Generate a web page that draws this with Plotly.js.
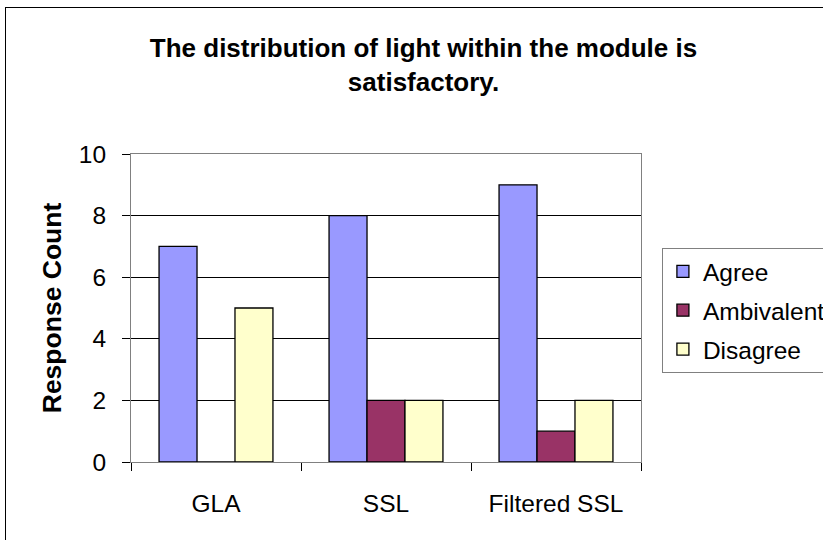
<!DOCTYPE html>
<html>
<head>
<meta charset="utf-8">
<script src="https://cdn.plot.ly/plotly-3.0.1.min.js"></script>
<style>
body{margin:0;padding:0;background:#fff;overflow:hidden;}
#wrap{position:relative;width:823px;height:540px;overflow:hidden;}
#chart{width:900px;height:540px;}
#frame{position:absolute;left:5px;top:7px;width:900px;height:600px;border:1px solid #000;pointer-events:none;}
</style>
</head>
<body>
<div id="wrap"><div id="chart"></div><div id="frame"></div></div>
<script>
const categories = ["GLA", "SSL", "Filtered SSL"];
const agree = [7, 8, 9];
const ambivalent = [0, 2, 1];
const disagree = [5, 2, 2];
const seriesNames = ["Agree", "Ambivalent", "Disagree"];
const seriesColors = ["#9999FF", "#993366", "#FFFFCC"];
const yTicks = [0, 2, 4, 6, 8, 10];

const font = "Liberation Sans, Arial, sans-serif";
const values = [agree, ambivalent, disagree];
const traces = values.map((v, i) => ({
  type: "bar",
  name: seriesNames[i],
  legendgroup: seriesNames[i],
  x: categories,
  y: v,
  marker: {color: seriesColors[i], line: {color: "#000", width: 1.3}},
  hoverinfo: "none"
}));

const W = 900;
const layout = {
  width: W, height: 540,
  margin: {l: 131, r: W - 641, t: 154, b: 78, pad: 0},
  paper_bgcolor: "#fff", plot_bgcolor: "#fff",
  barmode: "group", bargap: 0.33, bargroupgap: 0,
  title: {
    text: "<b>The distribution of light within the module is<br>satisfactory.</b>",
    font: {family: font, size: 26, color: "#000"},
    x: 423.5 / W, xanchor: "center", y: 0.894, yanchor: "middle"
  },
  xaxis: {
    type: "category",
    tickson: "boundaries",
    ticks: "outside", ticklen: 8, tickcolor: "#000",
    ticklabelstandoff: 20,
    tickfont: {family: font, size: 24.5, color: "#000"},
    showline: true, linecolor: "#808080", linewidth: 1, mirror: true,
    showgrid: false, zeroline: false
  },
  yaxis: {
    range: [0, 10],
    tickvals: yTicks,
    ticks: "outside", ticklen: 8, tickcolor: "#000",
    ticklabelstandoff: 11,
    tickfont: {family: font, size: 24.5, color: "#000"},
    showline: true, linecolor: "#808080", linewidth: 1, mirror: true,
    showgrid: true, gridcolor: "#000", gridwidth: 1,
    zeroline: false,
    title: {text: "<b>Response Count</b>", font: {family: font, size: 26.5, color: "#000"}, standoff: 9}
  },
  showlegend: true,
  legend: {
    x: 1.041, xanchor: "left", y: 0.695, yanchor: "top",
    bgcolor: "#fff", bordercolor: "#808080", borderwidth: 1,
    font: {family: font, size: 24.5, color: "#000"},
    tracegroupgap: 4, itemwidth: 26
  }
};

Plotly.newPlot("chart", traces, layout, {displayModeBar: false, staticPlot: true});
</script>
</body>
</html>
